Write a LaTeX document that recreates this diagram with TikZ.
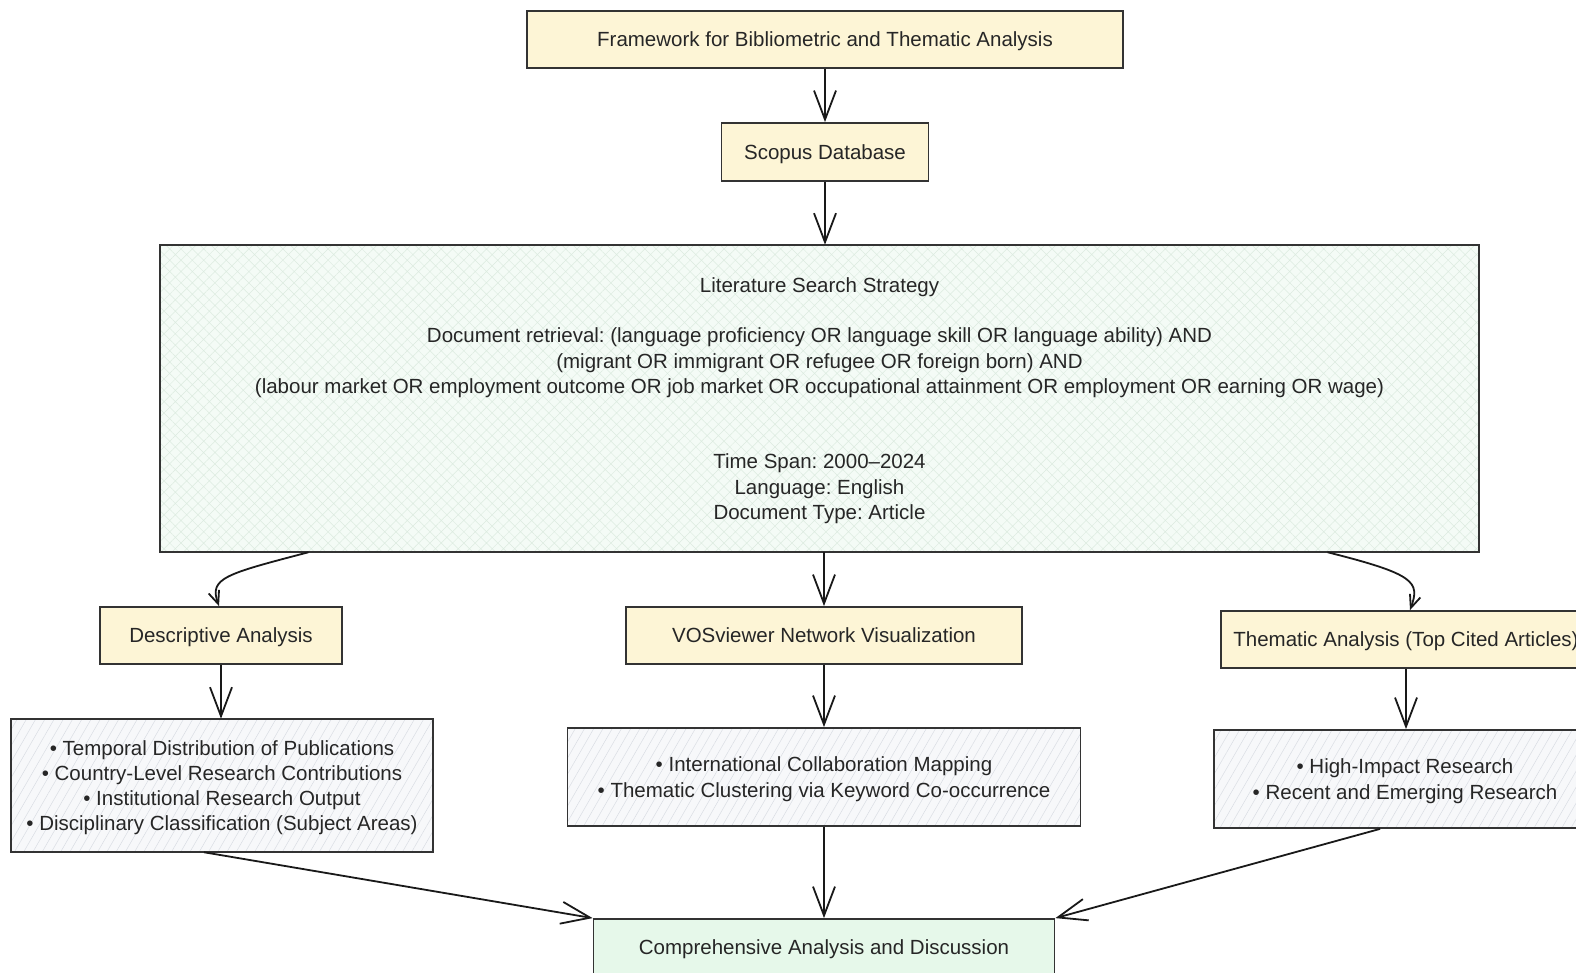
\documentclass[tikz,border=0pt]{standalone}
\usepackage{fontspec}
\setmainfont{Liberation Sans}
\usetikzlibrary{arrows.meta,patterns.meta}
\frenchspacing
\definecolor{txt}{HTML}{262626}
\definecolor{edge}{HTML}{333333}
\definecolor{ybox}{HTML}{FDF5D6}
\definecolor{gbox}{HTML}{F4FBF6}
\definecolor{ghatch}{HTML}{DCEBE0}
\definecolor{lbox}{HTML}{F7F8FA}
\definecolor{lhatch}{HTML}{D9DDE3}
\definecolor{cbox}{HTML}{E6F8EA}
\tikzset{
  base/.style={draw=edge, line width=1.8pt, text=txt, inner sep=0pt, align=center,
    text depth=0pt, font=\fontsize{20.5}{25.2}\selectfont\frenchspacing},
  ybx/.style={base, fill=ybox},
  litbx/.style={base, preaction={fill=gbox}, pattern={Hatch[angle=45,distance=8pt,line width=0.5pt]}, pattern color=ghatch},
  lstbx/.style={base, preaction={fill=lbox}, pattern={Lines[angle=60,distance=8pt,line width=0.5pt]}, pattern color=lhatch},
  cbx/.style={base, fill=cbox},
  arr/.style={draw=black!90, line width=1.8pt, -{Straight Barb[length=29pt,width=22pt,line width=1.8pt]}},
  carr/.style={draw=black!90, line width=1.8pt, -{Straight Barb[length=13pt,width=11pt,line width=1.8pt]}}
}
\begin{document}
\begin{tikzpicture}[x=1pt,y=-1pt]
\useasboundingbox[fill=white] (0,0) rectangle (1576,973);

\node[ybx, minimum width=596pt, minimum height=57pt] (top) at (825,39.5) {Framework for Bibliometric and Thematic Analysis};
\node[ybx, minimum width=207pt, minimum height=58pt] (scop) at (825,152) {Scopus Database};
\node[litbx, minimum width=1319pt, minimum height=307pt] (lit) at (819.5,398.5)
  {Literature Search Strategy\\[25.2pt]
   Document retrieval: (language proficiency OR language skill OR language ability) AND\\
   (migrant OR immigrant OR refugee OR foreign born) AND\\
   (labour market OR employment outcome OR job market OR occupational attainment OR employment OR earning OR wage)\\[50.4pt]
   Time Span: 2000–2024\\
   Language: English\\
   Document Type: Article};

\node[ybx, minimum width=242pt, minimum height=57pt] (desc) at (221,635.5) {Descriptive Analysis};
\node[ybx, minimum width=396pt, minimum height=57pt] (vos) at (824,635.5) {VOSviewer Network Visualization};
\node[ybx, minimum width=370pt, minimum height=57pt] (them) at (1406,639.5) {Thematic Analysis (Top Cited Articles)};

\node[lstbx, minimum width=422pt, minimum height=133pt] (dlist) at (222,785.5)
  {• Temporal Distribution of Publications\\
   • Country-Level Research Contributions\\
   • Institutional Research Output\\
   • Disciplinary Classification (Subject Areas)};
\node[lstbx, minimum width=513pt, minimum height=98pt] (vlist) at (824,777)
  {• International Collaboration Mapping\\
   • Thematic Clustering via Keyword Co-occurrence};
\node[lstbx, minimum width=382pt, minimum height=98pt] (tlist) at (1405,779)
  {• High-Impact Research\\
   • Recent and Emerging Research};

\node[cbx, minimum width=461pt, minimum height=57pt] (comp) at (824,947.5) {Comprehensive Analysis and Discussion};

\draw[arr] (top.south) -- (scop.north);
\draw[arr] (scop.south) -- (scop.south |- lit.north);
\draw[arr] (lit.south -| vos.north) -- (vos.north);
\draw[carr] ([xshift=-511pt]lit.south) .. controls ([xshift=-595pt,yshift=-22pt]lit.south) and ([xshift=-12pt,yshift=28pt]desc.north) .. ([xshift=-2pt]desc.north);
\draw[carr] ([xshift=508pt]lit.south) .. controls ([xshift=596pt,yshift=-22pt]lit.south) and ([xshift=14pt,yshift=28pt]them.north) .. ([xshift=4pt]them.north);
\draw[arr] (desc.south) -- (desc.south |- dlist.north);
\draw[arr] (vos.south) -- (vlist.north);
\draw[arr] (them.south) -- (them.south |- tlist.north);
\draw[arr] ([xshift=-18pt]dlist.south) -- (comp.north west);
\draw[arr] (vlist.south) -- (comp.north);
\draw[arr] ([xshift=-25pt]tlist.south) -- (comp.north east);
\end{tikzpicture}
\end{document}
